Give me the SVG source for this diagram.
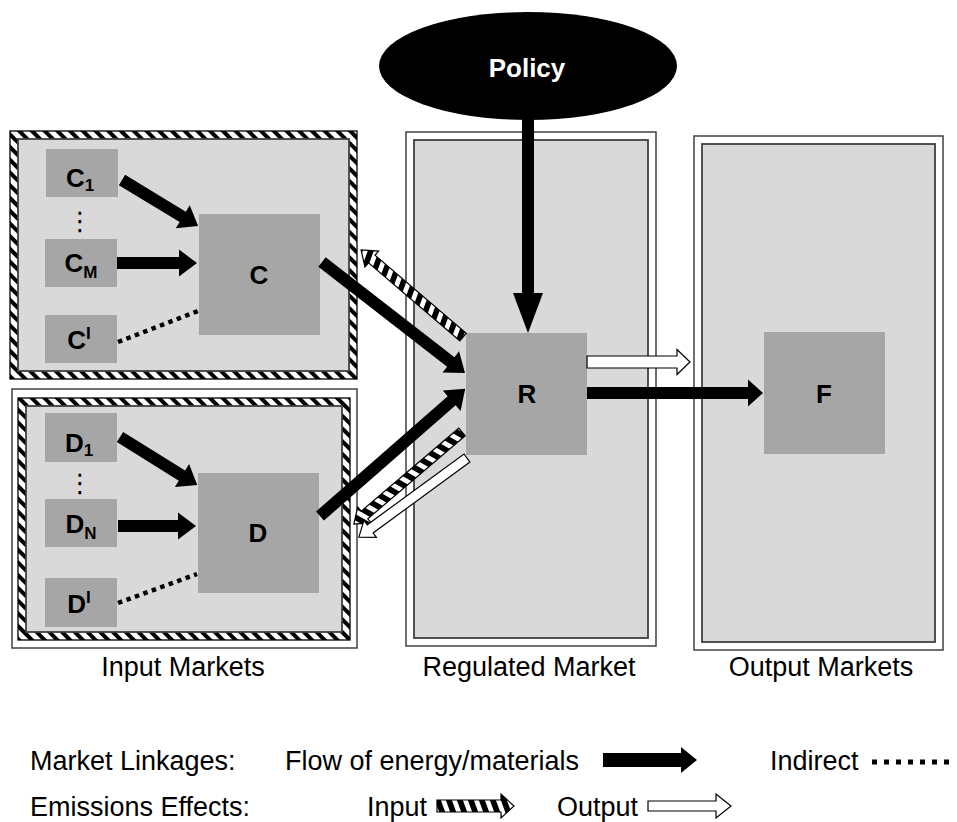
<svg xmlns="http://www.w3.org/2000/svg" width="957" height="822" viewBox="0 0 957 822">
<style>
text{font-family:"Liberation Sans",Arial,sans-serif;}
.lbl{font-size:27px;fill:#000;}
.nl{font-size:26px;font-weight:bold;fill:#000;text-anchor:middle;}
.sub{font-size:17px;}
.node{fill:#a6a6a6;}
.inner{fill:#d9d9d9;stroke:#404040;stroke-width:1.8;}
.outer{fill:#fff;stroke:#404040;stroke-width:1.5;}
.band{fill:none;stroke:url(#hatch);stroke-width:8;}
.edge{fill:none;stroke:#000;stroke-width:1.3;}
.blk{fill:#000;}
.hat{fill:url(#stripes);stroke:#000;stroke-width:1.2;}
.wht{fill:#fff;stroke:#000;stroke-width:1.2;}
.dot{stroke:#000;stroke-width:4.5;stroke-dasharray:4.5 4.5;fill:none;}
.dots{font-family:"DejaVu Sans",sans-serif;font-size:26px;text-anchor:middle;}
</style>
<defs>
<pattern id="hatch" patternUnits="userSpaceOnUse" width="9" height="9" patternTransform="rotate(-45)">
<rect width="9" height="9" fill="#fff"/>
<rect width="4" height="9" fill="#000"/>
</pattern>
<pattern id="stripes" patternUnits="userSpaceOnUse" width="11" height="11" patternTransform="skewX(20)">
<rect width="11" height="11" fill="#fff"/>
<rect width="6" height="11" fill="#000"/>
</pattern>
</defs>
<rect width="957" height="822" fill="#fff"/>

<g id="input-markets-c">
<rect class="band" x="14" y="135" width="339" height="240"/>
<rect class="edge" x="10" y="131" width="347" height="248"/>
<rect class="inner" x="18" y="139" width="331" height="232"/>
</g>
<g id="input-markets-d">
<rect class="outer" x="12" y="389" width="345" height="259"/>
<rect class="band" x="22" y="402" width="324" height="234"/>
<rect class="edge" x="18" y="398" width="332" height="242"/>
<rect class="inner" x="26" y="406" width="316" height="226"/>
</g>
<g id="regulated-market">
<rect class="outer" x="406" y="132" width="250" height="514"/>
<rect class="inner" x="414" y="140" width="234" height="498"/>
</g>
<g id="output-markets">
<rect class="outer" x="694" y="136" width="249" height="514"/>
<rect class="inner" x="702" y="144" width="233" height="498"/>
</g>

<g id="policy">
<ellipse cx="528" cy="66" rx="149" ry="54" fill="#000"/>
<text x="527" y="77" class="nl" style="fill:#fff">Policy</text>
</g>
<g id="node-c1"><rect class="node" x="46" y="149" width="72" height="48"/><text class="nl" x="80" y="187">C<tspan class="sub" dy="4">1</tspan></text></g>
<g id="node-cdots"><text class="dots" x="80" y="230">⋮</text></g>
<g id="node-cm"><rect class="node" x="45" y="239" width="72" height="48"/><text class="nl" x="81" y="272">C<tspan class="sub" dy="6">M</tspan></text></g>
<g id="node-ci"><rect class="node" x="45" y="315" width="72" height="48"/><text class="nl" x="79" y="349">C<tspan class="sub" dy="-10">I</tspan></text></g>
<g id="node-c"><rect class="node" x="199" y="214" width="121" height="121"/><text class="nl" x="259" y="284">C</text></g>

<g id="node-d1"><rect class="node" x="45" y="413" width="72" height="49"/><text class="nl" x="79" y="452">D<tspan class="sub" dy="4">1</tspan></text></g>
<g id="node-ddots"><text class="dots" x="80" y="492">⋮</text></g>
<g id="node-dn"><rect class="node" x="45" y="499" width="72" height="48"/><text class="nl" x="81" y="533">D<tspan class="sub" dy="6">N</tspan></text></g>
<g id="node-di"><rect class="node" x="45" y="578" width="72" height="49"/><text class="nl" x="79" y="613">D<tspan class="sub" dy="-10">I</tspan></text></g>
<g id="node-d"><rect class="node" x="198" y="473" width="121" height="120"/><text class="nl" x="258" y="542">D</text></g>

<g id="node-r"><rect class="node" x="466" y="333" width="121" height="122"/><text class="nl" x="527" y="403">R</text></g>
<g id="node-f"><rect class="node" x="764" y="332" width="121" height="122"/><text class="nl" x="824" y="403">F</text></g>

<g id="connectors">
<polygon class="blk" transform="translate(122,180) rotate(31.2)" points="0,-6 71,-6 71,-13.5 89,0 71,13.5 71,6 0,6"/>
<polygon class="blk" transform="translate(117,263)" points="0,-6 62,-6 62,-13.5 80,0 62,13.5 62,6 0,6"/>
<line class="dot" x1="118" y1="342" x2="198" y2="311"/>
<polygon class="blk" transform="translate(120,437) rotate(31.9)" points="0,-6 73,-6 73,-13.5 91,0 73,13.5 73,6 0,6"/>
<polygon class="blk" transform="translate(118,526)" points="0,-6 60,-6 60,-13.5 78,0 60,13.5 60,6 0,6"/>
<line class="dot" x1="118" y1="603" x2="197" y2="574"/>
<polygon class="hat" transform="translate(463,337) rotate(-139.5)" points="0,-5 120,-5 120,-10.5 134,0 120,10.5 120,5 0,5"/>
<polygon class="hat" transform="translate(462,432) rotate(139.6)" points="0,-5 128,-5 128,-10.5 142,0 128,10.5 128,5 0,5"/>
<polygon class="wht" transform="translate(467,458) rotate(143.8)" points="0,-5 120,-5 120,-10.5 134,0 120,10.5 120,5 0,5"/>
<polygon class="blk" transform="translate(322,262) rotate(37.8)" points="0,-6 163,-6 163,-13.5 181,0 163,13.5 163,6 0,6"/>
<polygon class="blk" transform="translate(320,516) rotate(-41.2)" points="0,-6 175,-6 175,-13.5 193,0 175,13.5 175,6 0,6"/>
<polygon class="blk" transform="translate(528,118) rotate(90)" points="0,-6 175,-6 175,-15 215,0 175,15 175,6 0,6"/>
<polygon class="wht" transform="translate(587,362)" points="0,-6 90,-6 90,-12.5 103,0 90,12.5 90,6 0,6"/>
<polygon class="blk" transform="translate(587,393)" points="0,-6 161,-6 161,-13.5 176,0 161,13.5 161,6 0,6"/>
</g>

<g id="labels">
<text class="lbl" x="183" y="676" text-anchor="middle">Input Markets</text>
<text class="lbl" x="529" y="676" text-anchor="middle">Regulated Market</text>
<text class="lbl" x="821" y="676" text-anchor="middle">Output Markets</text>
</g>

<g id="legend">
<text class="lbl" x="30" y="770">Market Linkages:</text>
<text class="lbl" x="285" y="770">Flow of energy/materials</text>
<polygon class="blk" transform="translate(603,760)" points="0,-7 78,-7 78,-13 94,0 78,13 78,7 0,7"/>
<text class="lbl" x="770" y="770">Indirect</text>
<line x1="872" y1="762" x2="952" y2="762" stroke="#000" stroke-width="5" stroke-dasharray="5 7"/>
<text class="lbl" x="30" y="816">Emissions Effects:</text>
<text class="lbl" x="367" y="816">Input</text>
<polygon class="hat" transform="translate(437,806)" points="0,-6 64,-6 64,-12 77,0 64,12 64,6 0,6"/>
<text class="lbl" x="557" y="816">Output</text>
<polygon class="wht" transform="translate(648,806)" points="0,-5 68,-5 68,-12 83,0 68,12 68,5 0,5"/>
</g>
</svg>
